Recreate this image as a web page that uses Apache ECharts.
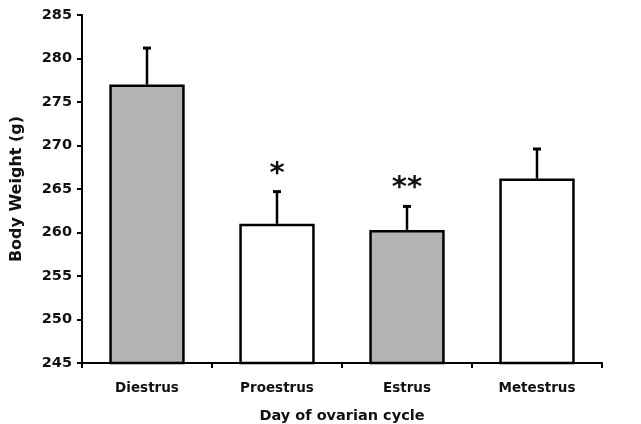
<!DOCTYPE html>
<html>
<head>
<meta charset="utf-8">
<script src="https://cdn.jsdelivr.net/npm/echarts@6/dist/echarts.min.js"></script>
<style>html,body{margin:0;padding:0;background:#fff}#c{width:641px;height:424px}</style>
</head>
<body>
<div id="c"></div>
<script>
const categories = ['Diestrus', 'Proestrus', 'Estrus', 'Metestrus'];
const meanValues = [277.0, 261.0, 260.3, 266.2];
const errorValues = [4.2, 3.7, 2.7, 3.4];
const significance = ['', '*', '**', ''];
const barColors = ['#b3b3b3', '#ffffff', '#b3b3b3', '#ffffff'];
const yTicks = [245, 250, 255, 260, 265, 270, 275, 280, 285];

const FONT = 'DejaVu Sans';
const chart = echarts.init(document.getElementById('c'), null, {renderer: 'canvas'});
chart.setOption({
  animation: false,
  backgroundColor: '#ffffff',
  grid: {left: 82, right: 39, top: 15, bottom: 61, containLabel: false, outerBoundsMode: 'none'},
  xAxis: {
    type: 'category',
    data: categories,
    name: 'Day of ovarian cycle',
    nameLocation: 'middle',
    nameGap: 46,
    nameTextStyle: {fontFamily: FONT, fontWeight: 'bold', fontSize: 14.5, color: '#111'},
    axisLine: {lineStyle: {color: '#000', width: 2}},
    axisTick: {show: true, length: 5, lineStyle: {color: '#000', width: 2}},
    axisLabel: {fontFamily: FONT, fontWeight: 'bold', fontSize: 13.5, color: '#111', margin: 18}
  },
  yAxis: {
    type: 'value',
    min: yTicks[0],
    max: yTicks[yTicks.length - 1],
    interval: 5,
    name: 'Body Weight (g)',
    nameLocation: 'middle',
    nameGap: 57,
    nameTextStyle: {fontFamily: FONT, fontWeight: 'bold', fontSize: 16, color: '#111'},
    splitLine: {show: false},
    axisLine: {show: true, lineStyle: {color: '#000', width: 2}},
    axisTick: {show: true, length: 5, lineStyle: {color: '#000', width: 2}},
    axisLabel: {fontFamily: FONT, fontWeight: 'bold', fontSize: 14.5, color: '#111', margin: 10}
  },
  series: [
    {
      type: 'bar',
      barWidth: '58%',
      data: meanValues.map((v, i) => ({value: v, itemStyle: {color: barColors[i]}})),
      itemStyle: {borderColor: '#000', borderWidth: 2.5},
      z: 3
    },
    {
      type: 'custom',
      z: 2,
      data: meanValues.map((v, i) => [i, v, v + errorValues[i], significance[i]]),
      renderItem: function (params, api) {
        const x = api.value(0);
        const top = api.coord([x, api.value(2)]);
        const base = api.coord([x, api.value(1)]);
        const sig = significance[params.dataIndex];
        const children = [
          {type: 'line', shape: {x1: top[0], y1: base[1], x2: top[0], y2: top[1]}, style: {stroke: '#000', lineWidth: 2.5}},
          {type: 'line', shape: {x1: top[0] - 4, y1: top[1], x2: top[0] + 4, y2: top[1]}, style: {stroke: '#000', lineWidth: 3}}
        ];
        if (sig) {
          children.push({type: 'text', style: {text: sig, x: top[0], y: top[1] - 3, align: 'center', verticalAlign: 'bottom', font: 'bold 29px ' + FONT, fill: '#111'}});
        }
        return {type: 'group', children: children};
      }
    }
  ]
});
</script>
</body>
</html>
